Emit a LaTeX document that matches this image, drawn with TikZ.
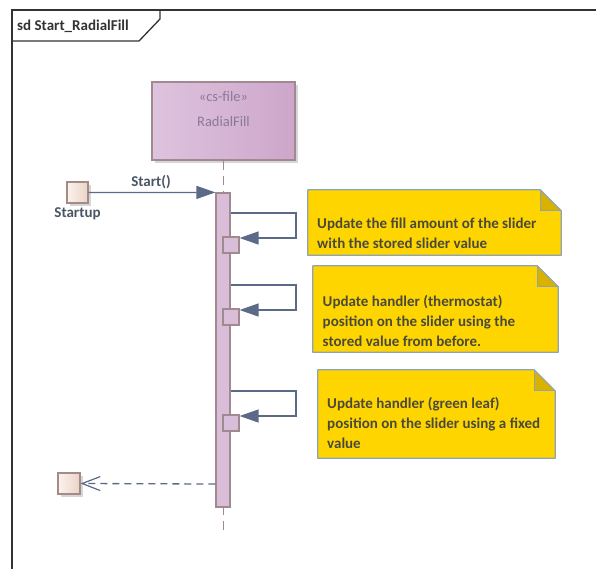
\documentclass[tikz,border=0pt]{standalone}
\usepackage{fontspec}
\setmainfont{Carlito}
\usetikzlibrary{arrows.meta,calc}

\definecolor{framecol}{HTML}{333333}
\definecolor{msgcol}{HTML}{5B6A86}
\definecolor{lifeborder}{HTML}{A08A90}
\definecolor{lifeL}{HTML}{DEC3DE}
\definecolor{lifeR}{HTML}{CDA6CA}
\definecolor{lifetext}{HTML}{8A7A98}
\definecolor{actfill}{HTML}{D9BDD9}
\definecolor{actorL}{HTML}{FBF3EE}
\definecolor{actorR}{HTML}{EBD3C6}
\definecolor{actorborder}{HTML}{A58A86}
\definecolor{notefill}{HTML}{FFD500}
\definecolor{notefold}{HTML}{D9B200}
\definecolor{noteborder}{HTML}{8FA3B3}
\definecolor{notetext}{HTML}{4A4A3A}
\definecolor{labeltext}{HTML}{4A5566}
\definecolor{shadowcol}{HTML}{D6D6D6}

\tikzset{
  lifebox/.style={draw=lifeborder, line width=1.2pt, left color=lifeL, right color=lifeR,
    minimum width=143pt, minimum height=78pt, inner sep=0pt},
  actbar/.style={draw=lifeborder, line width=1.2pt, fill=actfill,
    minimum width=14pt, minimum height=314pt, inner sep=0pt},
  execbox/.style={draw=lifeborder, line width=1.2pt, fill=actfill,
    minimum width=16pt, minimum height=16pt, inner sep=0pt},
  actorbox/.style={draw=actorborder, line width=1.2pt, left color=actorL, right color=actorR,
    minimum width=21pt, minimum height=21pt, inner sep=0pt},
  notebox/.style={inner sep=0pt},
  notetextstyle/.style={anchor=west, align=left, inner sep=0pt, text=notetext,
    font=\fontsize{15}{20}\selectfont\bfseries},
  msg/.style={draw=msgcol, line width=1.3pt},
  callarrow/.style={msg, -{Triangle[length=19pt,width=13pt]}},
  retarrow/.style={msg, dash pattern=on 7pt off 5pt, -{Straight Barb[length=18pt,width=14pt,line width=1.2pt]}},
  lifeline/.style={draw=lifeborder, line width=1.2pt, dash pattern=on 9pt off 6pt},
}

% folded-corner note drawn around a named node
\newcommand{\umlnote}[2]{%
  \fill[notefill] (#1.north west) -- ($(#1.north east)+(-#2,0)$) -- ($(#1.north east)+(0,#2)$)
     -- (#1.south east) -- (#1.south west) -- cycle;
  \fill[notefold] ($(#1.north east)+(-#2,0)$) -- ($(#1.north east)+(-#2,#2)$) -- ($(#1.north east)+(0,#2)$) -- cycle;
  \draw[noteborder, line width=1.2pt, line join=round] (#1.north west) -- ($(#1.north east)+(-#2,0)$)
     -- ($(#1.north east)+(0,#2)$) -- (#1.south east) -- (#1.south west) -- cycle;
  \draw[noteborder, line width=1.2pt, line join=round] ($(#1.north east)+(-#2,0)$)
     -- ($(#1.north east)+(-#2,#2)$) -- ($(#1.north east)+(0,#2)$);
}

\begin{document}
\begin{tikzpicture}[x=1pt, y=-1pt]
\useasboundingbox (0,0) rectangle (596,568);
\fill[white] (0,0) rectangle (596,568);

% sequence frame with its name tab
\draw[framecol, line width=1.5pt] (596,10) -- (12,10) -- (12,570);
\draw[framecol, line width=1.3pt] (12,41) -- (139,41) -- (160,19) -- (160,10);
\node[anchor=west, inner sep=0pt, font=\fontsize{15}{17}\selectfont\bfseries, text=framecol]
  (title) at (17,26) {sd Start\_RadialFill};

% lifeline head
\fill[shadowcol] (155,85) rectangle (298,163);
\node[lifebox] (lf) at (223.5,121) {};
\node[text=lifetext, inner sep=0pt, font=\fontsize{14.5}{17}\selectfont] (ster) at (223.5,97) {«cs-file»};
\node[text=lifetext, inner sep=0pt, font=\fontsize{14.5}{17}\selectfont] (lfname) at (223.5,122) {RadialFill};

% lifeline below the head
\coordinate (lend) at (223.5,530);
\draw[lifeline] (lf.south) -- (lend);

% activation bar
\node[actbar] (act) at (223,350) {};

% calling actor
\fill[shadowcol] (70,185) rectangle (91,206);
\node[actorbox] (startup) at (77.5,192.5) {};
\node[anchor=north, inner sep=0pt, font=\fontsize{15}{17}\selectfont\bfseries, text=labeltext]
  (startuplbl) at (77.5,207) {Startup};

% Start() call
\draw[callarrow] (startup.east) -- (act.north west);
\node[inner sep=0pt, font=\fontsize{15}{17}\selectfont\bfseries, text=labeltext]
  (startlbl) at (151,182) {Start()};

% self calls with their execution boxes
\node[execbox] (e1) at (231,245) {};
\node[execbox] (e2) at (231,317) {};
\node[execbox] (e3) at (231,423) {};

\draw[callarrow] ($(act.east)+(0,-137)$) -- (296,213) |- ($(e1.east)+(0,-7)$);
\draw[callarrow] ($(act.east)+(0,-65)$) -- (296,285) |- ($(e2.east)+(0,-7)$);
\draw[callarrow] ($(act.east)+(0,41)$) -- (296,391) |- ($(e3.east)+(0,-7)$);

% return to caller
\fill[shadowcol] (61,476) rectangle (83,497);
\node[actorbox, minimum width=22pt] (caller) at (69,483.5) {};
\draw[retarrow] ($(act.west)+(0,134)$) -- (caller.east);

% notes
\node[notebox, minimum width=253pt, minimum height=65pt] (n1) at (434.5,222.5) {};
\umlnote{n1}{21}
\node[notetextstyle] (n1t) at (317,233) {Update the fill amount of the slider\\with the stored slider value};

\node[notebox, minimum width=245pt, minimum height=86pt] (n2) at (435.5,309) {};
\umlnote{n2}{21}
\node[notetextstyle] (n2t) at (322.5,321) {Update handler (thermostat)\\position on the slider using the\\stored value from before.};

\node[notebox, minimum width=237pt, minimum height=88pt] (n3) at (436.5,414) {};
\umlnote{n3}{21}
\node[notetextstyle] (n3t) at (327,423) {Update handler (green leaf)\\position on the slider using a fixed\\value};

\end{tikzpicture}
\end{document}
